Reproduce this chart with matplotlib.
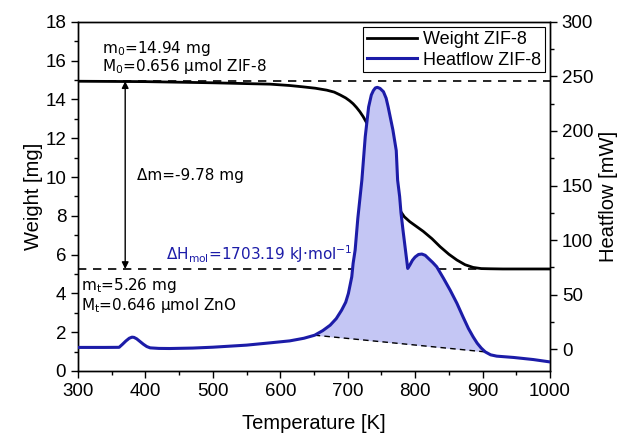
import numpy as np
import matplotlib
matplotlib.use("Agg")
import matplotlib.pyplot as plt
from matplotlib.ticker import MultipleLocator
from matplotlib.lines import Line2D

# ---- data ----
T_hf = [300, 340, 361, 366, 371, 376, 380, 383, 387, 392, 397, 402, 407, 420, 436, 470, 500, 550,
        585, 614, 635, 651, 663, 674, 683, 691, 697, 701, 706, 708, 711, 715, 721, 726, 731, 735,
        738, 741, 744, 748, 753, 757, 760, 764, 767, 772, 774, 777, 779, 782, 785, 787, 789,
        792, 796, 800, 805, 810, 815, 820, 826, 832, 842, 852, 862, 871, 879, 886, 892, 898, 904,
        912, 921, 946, 975, 1000]
hf = [1.6, 1.6, 1.7, 4.5, 7.5, 10.0, 11.0, 10.8, 9.5, 7.0, 4.5, 2.4, 1.2, 0.7, 0.6, 1.0, 1.8, 3.7,
      5.8, 7.6, 10.0, 12.8, 17.0, 22.0, 28.0, 35.8, 43.0, 51.1, 66.3, 78.6, 90.8, 120.0, 155.0, 194.8, 222.0, 233.0,
      237.0, 239.5, 240.0, 239.0, 236.0, 230.0, 222.0, 210.0, 201.0, 182.0, 155.0, 140.0, 125.0, 109.0, 94.0, 84.0, 74.0,
      77.0, 81.5, 84.5, 86.8, 87.2, 86.0, 83.0, 79.5, 75.5, 65.0, 54.0, 42.0, 29.6, 19.0, 11.3, 5.5, 1.0, -2.5,
      -5.2, -6.4, -7.6, -9.5, -11.7]

T_w = [300, 400, 500, 560, 585, 614, 634, 652, 669, 680, 689, 697, 703, 708, 713, 718, 723, 728,
       733, 740, 748, 755, 760, 766, 772, 778, 784, 792, 800, 812, 825, 837, 850, 862, 874, 886,
       898, 911, 930, 1000]
w = [14.94, 14.92, 14.86, 14.81, 14.79, 14.72, 14.65, 14.58, 14.48, 14.38, 14.23, 14.08, 13.93, 13.78, 13.59, 13.37, 13.11, 12.80,
     12.42, 11.85, 11.22, 10.58, 10.02, 9.42, 8.85, 8.25, 7.95, 7.70, 7.50, 7.20, 6.82, 6.41, 6.02, 5.72, 5.48, 5.34,
     5.28, 5.27, 5.26, 5.26]

m0 = 14.94
mt = 5.26
base_T = [651, 904]
base_hf = [12.8, -2.5]
arrow_T = 370

xticks = [300, 400, 500, 600, 700, 800, 900, 1000]
yticks_w = [0, 2, 4, 6, 8, 10, 12, 14, 16, 18]
yticks_hf = [0, 50, 100, 150, 200, 250, 300]

BLUE = "#1c1ca8"
FILL = "#c4c6f4"
tickfont = "Liberation Sans"
annfont = "DejaVu Sans"

fig = plt.figure(figsize=(6.25, 4.38), dpi=100)
ax1 = fig.add_axes([0.1248, 0.153, 0.7552, 0.797])
ax2 = ax1.twinx()

# weight
ax1.plot(T_w, w, color="black", lw=2.0, zorder=3, solid_joinstyle="round")
ax1.axhline(m0, color="black", lw=1.2, ls=(0, (5, 4)), zorder=2)
ax1.axhline(mt, color="black", lw=1.2, ls=(0, (5, 4)), zorder=2)
ax1.annotate("", xy=(arrow_T, m0), xytext=(arrow_T, mt),
             arrowprops=dict(arrowstyle="<|-|>", color="black", lw=1.0,
                             shrinkA=0, shrinkB=0, mutation_scale=10))
ax1.set_xlim(300, 1000)
ax1.set_ylim(0, 18)

# heat flow
Th = np.array(T_hf, dtype=float)
H = np.array(hf, dtype=float)
mask = (Th >= base_T[0]) & (Th <= base_T[1])
bl = np.interp(Th[mask], base_T, base_hf)
ax2.fill_between(Th[mask], H[mask], bl, color=FILL, lw=0, zorder=1)
ax2.plot(base_T, base_hf, color="black", lw=1.0, ls=(0, (4, 3)), zorder=2)
ax2.plot(T_hf, hf, color=BLUE, lw=2.2, zorder=3, solid_joinstyle="round")
ax2.set_ylim(-20, 300)

# ticks
ax1.xaxis.set_minor_locator(MultipleLocator(50))
ax1.yaxis.set_minor_locator(MultipleLocator(1))
ax2.yaxis.set_minor_locator(MultipleLocator(25))
ax1.set_xticks(xticks)
ax1.set_yticks(yticks_w)
ax2.set_yticks(yticks_hf)
for ax in (ax1, ax2):
    ax.tick_params(which="major", direction="out", length=5, width=1.0, labelsize=13.5)
    ax.tick_params(which="minor", direction="out", length=3, width=1.0)
    for lab in ax.get_xticklabels() + ax.get_yticklabels():
        lab.set_fontfamily(tickfont)
    for s in ax.spines.values():
        s.set_linewidth(1.0)

ax1.set_xlabel("Temperature [K]", fontsize=14.5, family=tickfont, labelpad=10)
ax1.set_ylabel("Weight [mg]", fontsize=14.5, family=tickfont, labelpad=2)
ax2.set_ylabel("Heatflow [mW]", fontsize=14.5, family=tickfont, labelpad=4)

# annotations
ax1.text(335, 16.65, r"m$_0$=14.94 mg", fontsize=11, family=annfont, va="center")
ax1.text(335, 15.7, r"M$_0$=0.656 µmol ZIF-8", fontsize=11, family=annfont, va="center")
ax1.text(387, 10.1, r"Δm=-9.78 mg", fontsize=11, family=annfont, va="center")
ax1.text(430, 6.0, r"ΔH$_\mathrm{mol}$=1703.19 kJ·mol$^{-1}$", fontsize=11,
         family=annfont, va="center", color=BLUE)
ax1.text(304, 4.43, r"m$_\mathrm{t}$=5.26 mg", fontsize=11, family=annfont, va="center")
ax1.text(304, 3.4, r"M$_\mathrm{t}$=0.646 µmol ZnO", fontsize=11, family=annfont, va="center")

handles = [Line2D([], [], color="black", lw=2.0), Line2D([], [], color=BLUE, lw=2.2)]
leg = ax2.legend(handles, ["Weight ZIF-8", "Heatflow ZIF-8"], loc="upper right",
                 fancybox=False, edgecolor="black", framealpha=1,
                 prop={"family": tickfont, "size": 13}, handlelength=2.8,
                 borderpad=0.2, labelspacing=0.2, handletextpad=0.3,
                 borderaxespad=0.3)
leg.get_frame().set_linewidth(0.8)

fig.savefig("out.png", dpi=100)
